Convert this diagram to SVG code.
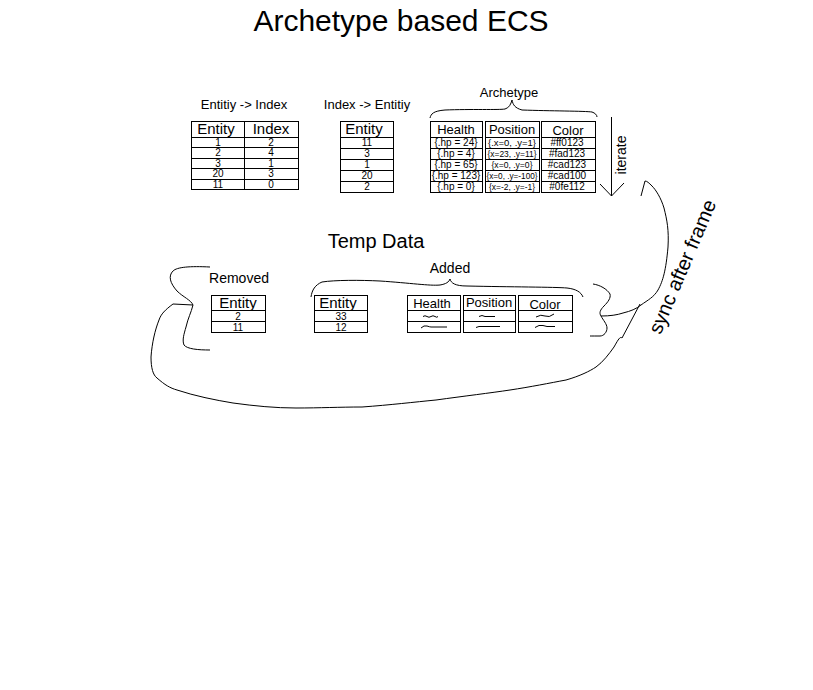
<svg xmlns="http://www.w3.org/2000/svg" width="813" height="690" viewBox="0 0 813 690">
<style>
text{font-family:"Liberation Sans",Arial,sans-serif;fill:#000}
.c{text-anchor:middle}
.h15{font-size:15px}
.h13{font-size:13px}
.d{font-size:10px}
.p{font-size:8.5px}
.lbl{font-size:13px}
.cell{fill:#fff;stroke:#000;stroke-width:1}
.ln{fill:none;stroke:#000;stroke-width:1}
</style>
<rect width="813" height="690" fill="#fff"/>
<text x="401" y="31" class="c" font-size="30">Archetype based ECS</text>

<g id="entity-index">
<text x="244" y="108.5" class="c lbl">Entitiy -&gt; Index</text>
<rect class="cell" x="191.5" y="121.5" width="107" height="68"/>
<path class="ln" d="M244.5 121.5V189.5M191.5 137.5H298.5M191.5 147.5H298.5M191.5 158.5H298.5M191.5 168.5H298.5M191.5 179.5H298.5"/>
<text x="216" y="134" class="c h15">Entity</text><text x="271" y="134" class="c h15">Index</text>
<text x="218" y="145.5" class="c d">1</text><text x="271" y="145.5" class="c d">2</text>
<text x="218" y="156" class="c d">2</text><text x="271" y="156" class="c d">4</text>
<text x="218" y="166.5" class="c d">3</text><text x="271" y="166.5" class="c d">1</text>
<text x="218" y="177" class="c d">20</text><text x="271" y="177" class="c d">3</text>
<text x="218" y="187.5" class="c d">11</text><text x="271" y="187.5" class="c d">0</text>
</g>

<g id="index-entity">
<text x="367" y="108.5" class="c lbl">Index -&gt; Entitiy</text>
<rect class="cell" x="340.5" y="121.5" width="53" height="71"/>
<path class="ln" d="M340.5 137.5H393.5M340.5 148.5H393.5M340.5 159.5H393.5M340.5 170.5H393.5M340.5 181.5H393.5"/>
<text x="364" y="134" class="c h15">Entity</text>
<text x="367" y="146" class="c d">11</text>
<text x="367" y="157" class="c d">3</text>
<text x="367" y="168" class="c d">1</text>
<text x="367" y="179" class="c d">20</text>
<text x="367" y="190" class="c d">2</text>
</g>

<g id="archetype">
<text x="509" y="96.5" class="c lbl">Archetype</text>
<rect class="cell" x="430.5" y="121.5" width="52" height="71"/>
<rect class="cell" x="485.5" y="121.5" width="54" height="71"/>
<rect class="cell" x="541.5" y="121.5" width="54" height="71"/>
<path class="ln" d="M430.5 137.5H482.5M430.5 148.5H482.5M430.5 159.5H482.5M430.5 170.5H482.5M430.5 181.5H482.5"/>
<path class="ln" d="M485.5 137.5H539.5M485.5 148.5H539.5M485.5 159.5H539.5M485.5 170.5H539.5M485.5 181.5H539.5"/>
<path class="ln" d="M541.5 137.5H595.5M541.5 148.5H595.5M541.5 159.5H595.5M541.5 170.5H595.5M541.5 181.5H595.5"/>
<text x="456" y="134" class="c h13">Health</text>
<text x="512" y="134" class="c h13">Position</text>
<text x="568" y="135" class="c h13">Color</text>
<text x="456" y="146" class="c d">{.hp = 24}</text>
<text x="456" y="157" class="c d">{.hp = 4}</text>
<text x="456" y="168" class="c d">{.hp = 65}</text>
<text x="456" y="179" class="c d">{.hp = 123}</text>
<text x="456" y="190" class="c d">{.hp = 0}</text>
<text x="512" y="146" class="c p" textLength="48" lengthAdjust="spacingAndGlyphs">{.x=0, .y=1}</text>
<text x="512" y="157" class="c p" textLength="49" lengthAdjust="spacingAndGlyphs">{x=23, .y=11}</text>
<text x="512" y="168" class="c p" textLength="41" lengthAdjust="spacingAndGlyphs">{x=0, .y=0}</text>
<text x="512" y="179" class="c p" textLength="51" lengthAdjust="spacingAndGlyphs">{x=0, .y=-100}</text>
<text x="512" y="190" class="c p" textLength="46" lengthAdjust="spacingAndGlyphs">{x=-2, .y=-1}</text>
<text x="567" y="146" class="c d">#ff0123</text>
<text x="567" y="157" class="c d">#fad123</text>
<text x="567" y="168" class="c d">#cad123</text>
<text x="567" y="179" class="c d">#cad100</text>
<text x="567" y="190" class="c d">#0fe112</text>
</g>

<g id="iterate">
<path class="ln" d="M611.5 117V196M600 184L611.5 196L624 183"/>
<text transform="translate(626,155) rotate(-90)" class="c" font-size="14">iterate</text>
</g>

<text x="376" y="248" class="c" font-size="20">Temp Data</text>

<g id="removed">
<text x="239" y="283" class="c" font-size="14">Removed</text>
<rect class="cell" x="211.5" y="295.5" width="54" height="37"/>
<path class="ln" d="M211.5 310.5H265.5M211.5 321.5H265.5"/>
<text x="238" y="308" class="c h15">Entity</text>
<text x="238" y="320" class="c d">2</text>
<text x="238" y="331" class="c d">11</text>
</g>

<g id="added">
<text x="450" y="273" class="c" font-size="14">Added</text>
<rect class="cell" x="314.5" y="295.5" width="53" height="37"/>
<path class="ln" d="M314.5 310.5H367.5M314.5 321.5H367.5"/>
<text x="338" y="308" class="c h15">Entity</text>
<text x="341" y="320" class="c d">33</text>
<text x="341" y="331" class="c d">12</text>
<rect class="cell" x="407.5" y="295.5" width="53" height="37"/>
<rect class="cell" x="463.5" y="295.5" width="52" height="37"/>
<rect class="cell" x="518.5" y="295.5" width="54" height="37"/>
<path class="ln" d="M407.5 310.5H460.5M407.5 321.5H460.5M463.5 310.5H515.5M463.5 321.5H515.5M518.5 310.5H572.5M518.5 321.5H572.5"/>
<text x="432" y="308" class="c h13">Health</text>
<text x="489" y="307" class="c h13">Position</text>
<text x="545" y="309" class="c h13">Color</text>
<path class="ln" d="M423 316.5q2 -1.5 4 0t4 0t4 0t3 0M421 328q3 -3 6 -2t4 1H447M479 316.5q3 -2 6 0H495M476 327.5q3 -1.5 6 -1H500M536 317q5 -3 9 -1t9 -2M535 327.5q4 -3 8 -2t4 1H555"/>
</g>

<g id="connectors">
<path class="ln" d="M430 118C431 114 433 111 445 110C470 109 500 110 505 109C509 108 511 104 512 100C513 105 515 108 522 110C550 111 585 111 592 112C595 113 597 115 597 117"/>
<path class="ln" d="M311 297C312 290 315 285 322 282C335 280 360 280 380 281C410 283 430 286 440 285C446 284 449 282 450 279C451 283 455 286 467 286C510 287 555 287 567 288C576 289 581 292 583 297"/>
<path class="ln" d="M210 267C190 266 177 267 173 271C168 276 170 283 177 291C183 297 191 300 193 305C191 313 188 318 186 327C184 334 182 340 184 345C187 349 198 350 210 350"/>
<path class="ln" d="M193 305L173 304C165 310 161 314 159 320C155 330 152 343 151 357C151 368 153 375 157 378C165 385 170 388 177 390C195 396 215 400 233 403C255 406 275 408 296 408C320 408 340 407 362 407C390 405 415 402 436 400C465 396 490 393 510 390C530 387 550 383 566 380C580 376 590 371 596 367C603 362 609 354 614 347C618 340 620 336 622 338L640 304"/>
<path class="ln" d="M593 284C600 285 607 289 610 294C611 298 608 302 604 306C600 310 599 313 601 316C603 320 607 324 607 328C607 332 604 336 600 336C596 336 592 336 590 336"/>
<path class="ln" d="M601 316C610 316 617 315 623 313C631 311 636 309 641 305C648 300 654 297 658 290C663 281 666 270 668 247C669 230 667 220 664 208C661 198 656 190 652 186C649 183 647 181 645 181L641 196"/>
</g>
<text transform="translate(683,267) rotate(-67)" class="c" font-size="20" y="6">sync after frame</text>
</svg>
